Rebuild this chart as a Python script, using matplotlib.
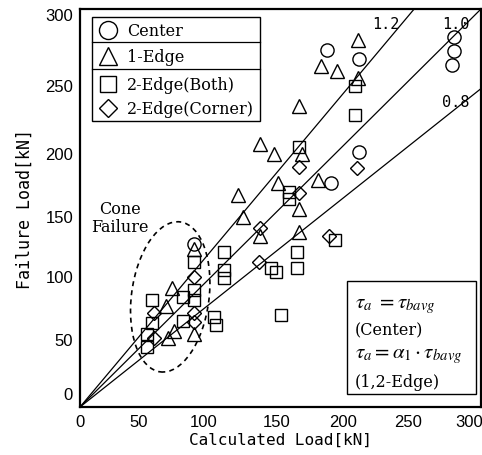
import matplotlib
matplotlib.use("Agg")
import matplotlib.pyplot as plt
from matplotlib.patches import Ellipse, Rectangle
import matplotlib.transforms as mtrans
import numpy as np

# ---------------- data ----------------
center_x = [280, 280, 278, 185, 209, 209, 188, 85]
center_y = [279, 268, 258, 269, 262, 192, 169, 123]

edge1_x = [208, 180, 192, 208, 164, 135, 145, 166, 178, 148, 164, 118, 122, 135, 164, 85, 69, 64, 66, 70, 85]
edge1_y = [277, 257, 253, 248, 227, 198, 191, 191, 171, 169, 149, 160, 143, 129, 132, 119, 90, 76, 52, 57, 55]

both_x = [206, 206, 164, 156, 156, 191, 162, 162, 143, 147, 150, 108, 108, 108, 85, 85, 85, 77, 54, 54, 50, 50, 77, 100, 102]
both_y = [242, 220, 196, 162, 157, 126, 117, 105, 105, 102, 69, 117, 103, 97, 109, 88, 81, 83, 81, 63, 55, 45, 65, 68, 62]

corner_x = [164, 207, 164, 135, 186, 134, 85, 55, 55, 85, 85]
corner_y = [181, 180, 161, 135, 129, 109, 98, 71, 52, 71, 64]

ratios = [1.2, 1.0, 0.8]
ratio_labels = ["1.2", "1.0", "0.8"]

xticks = [0, 50, 100, 150, 200, 250, 300]
yticks = [0, 50, 100, 150, 200, 250, 300]

legend_labels = ["Center", "1-Edge", "2-Edge(Both)", "2-Edge(Corner)"]

# ---------------- figure ----------------
plt.rcParams["mathtext.fontset"] = "stix"
W, H = 482, 456
fig = plt.figure(figsize=(W / 100, H / 100), dpi=100)
L, R, B, T = 80, 481, 408, 10
ax = fig.add_axes([L / W, (H - B) / H, (R - L) / W, (B - T) / H])
ax.set_xlim(0, 300)
ax.set_ylim(0, 300)

def fx(px):
    return (px - L) / (R - L)

def fy(py):
    return (B - py) / (B - T)

# ratio lines
xs = np.array([0, 300])
for r in ratios:
    ax.plot(xs, r * xs, color="black", lw=0.9, zorder=2)

lab_pos = {"1.2": (229, 289), "1.0": (281, 289), "0.8": (281, 230)}
for lab in ratio_labels:
    x, y = lab_pos[lab]
    ax.text(x, y, lab, fontsize=11, family="DejaVu Sans Mono", ha="center", va="center", zorder=4)

mk = dict(mfc="none", mec="black", mew=1.0, ls="none", zorder=3)
ax.plot(center_x, center_y, marker="o", ms=9.5, **mk)
ax.plot(edge1_x, edge1_y, marker="^", ms=10, **mk)
ax.plot(both_x, both_y, marker="s", ms=9, **mk)
ax.plot(corner_x, corner_y, marker="D", ms=7.5, **mk)

# cone failure ellipse
ax.add_patch(Ellipse((67.5, 83), 58, 114, angle=-7.5, fill=False, ls=(0, (3, 2.5)),
                     lw=1.2, color="black", zorder=2))
ax.text(30, 143, "Cone\nFailure", fontsize=11.5, family="DejaVu Serif", ha="center", va="center",
        linespacing=1.1)

# legend box drawn manually
tr = ax.transAxes
ax.add_patch(Rectangle((fx(92), fy(122)), fx(260) - fx(92), fy(18) - fy(122), transform=tr,
                       fill=True, fc="white", ec="black", lw=1.0, zorder=5))
for sep in [43.3, 70]:
    ax.plot([fx(92), fx(260)], [fy(sep), fy(sep)], transform=tr, color="black", lw=0.9, zorder=6)
rows_y = [31, 57, 85, 109]
markers = [("o", 13), ("^", 13), ("s", 11.5), ("D", 9)]
for (m, s), ry, lab in zip(markers, rows_y, legend_labels):
    ax.plot([fx(108)], [fy(ry)], transform=tr, marker=m, ms=s, mfc="white", mec="black", mew=1.0,
            ls="none", zorder=7, clip_on=False)
    ax.text(fx(127), fy(ry), lab, transform=tr, fontsize=11.5, family="DejaVu Serif",
            ha="left", va="center", zorder=7)

# annotation box
ax.add_patch(Rectangle((fx(347), fy(395)), fx(476) - fx(347), fy(282) - fy(395), transform=tr,
                       fill=True, fc="white", ec="black", lw=1.0, zorder=5))
ann = [(307, r"$\tau_a\ = \tau_{bavg}$", 15), (331, "(Center)", 11.5),
       (357, r"$\tau_a = \alpha_1 \cdot \tau_{bavg}$", 15), (383, "(1,2-Edge)", 11.5)]
for py, s, fs in ann:
    ax.text(fx(355), fy(py), s, transform=tr, fontsize=fs, family="DejaVu Serif",
            ha="left", va="center", zorder=7)

# axes styling
ax.set_xticks(xticks)
ax.set_yticks(yticks)
ax.tick_params(length=0, labelsize=12, pad=5)
for lab in ax.get_xticklabels() + ax.get_yticklabels():
    lab.set_family("Liberation Sans")
# small per-label offsets (pixels) imitating the scanned reference placement
x_off = [0, -8, -10, -4, -4, -6, -12]
y_off = [14, 2, -2, -8, -11, -10, -5]
for lab, dx in zip(ax.get_xticklabels(), x_off):
    lab.set_transform(lab.get_transform() + mtrans.ScaledTranslation(dx / 100, 0, fig.dpi_scale_trans))
for lab, dy in zip(ax.get_yticklabels(), y_off):
    lab.set_transform(lab.get_transform() + mtrans.ScaledTranslation(0, dy / 100, fig.dpi_scale_trans))
for sp in ax.spines.values():
    sp.set_linewidth(1.6)

ax.set_xlabel("Calculated Load[kN]", fontsize=11.5, family="DejaVu Sans Mono", labelpad=2)
ax.set_ylabel("Failure Load[kN]", fontsize=12, family="DejaVu Sans Mono", labelpad=8)

fig.savefig("out.png", dpi=100)
